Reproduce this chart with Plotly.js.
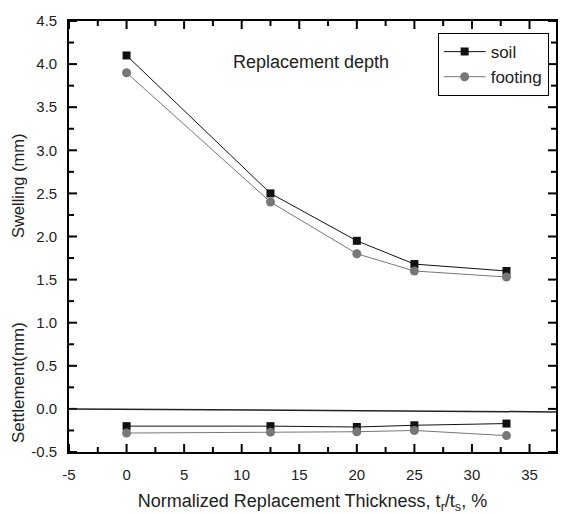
<!DOCTYPE html>
<html>
<head>
<meta charset="utf-8">
<script src="https://cdn.plot.ly/plotly-3.0.1.min.js"></script>
<style>html,body{margin:0;padding:0;background:#fff;}#chart{width:561px;height:514px;}</style>
</head>
<body>
<div id="chart"></div>
<script>
// Data
const thickness = [0, 12.5, 20, 25, 33];
const soilSwelling = [4.1, 2.5, 1.95, 1.68, 1.6];
const footingSwelling = [3.9, 2.4, 1.8, 1.6, 1.53];
const soilSettlement = [-0.2, -0.2, -0.21, -0.19, -0.17];
const footingSettlement = [-0.28, -0.27, -0.265, -0.25, -0.31];
const baselineX = [-5, 37.3];
const baselineY = [0, -0.035];

const xTickVals = [-5, 0, 5, 10, 15, 20, 25, 30, 35];
const xTickText = ['-5', '0', '5', '10', '15', '20', '25', '30', '35'];
const xMinorTicks = [-2.5, 2.5, 7.5, 12.5, 17.5, 22.5, 27.5, 32.5];
const yTickVals = [-0.5, 0, 0.5, 1, 1.5, 2, 2.5, 3, 3.5, 4, 4.5];
const yTickText = ['-0.5', '0.0', '0.5', '1.0', '1.5', '2.0', '2.5', '3.0', '3.5', '4.0', '4.5'];
const yMinorTicks = [-0.25, 0.25, 0.75, 1.25, 1.75, 2.25, 2.75, 3.25, 3.75, 4.25];

const xRange = [-5, 37.3];
const yRange = [-0.5, 4.5];

const W = 561, H = 514;
const margin = {l: 69, r: 5, t: 21, b: 62};

const soilColor = '#111111';
const footColor = '#777777';
const font = 'Arial, "Liberation Sans", sans-serif';

// Inside tick marks on all four sides, drawn as short line segments (lengths in pixels converted to axis units)
const xPerPx = (xRange[1] - xRange[0]) / (W - margin.l - margin.r);
const yPerPx = (yRange[1] - yRange[0]) / (H - margin.t - margin.b);
function tickTrace(vals, lens, side) {
  const xs = [], ys = [];
  vals.forEach((v, i) => {
    const L = lens[i];
    if (side === 'bottom') { xs.push(v, v, null); ys.push(yRange[0], yRange[0] + L * yPerPx, null); }
    if (side === 'top')    { xs.push(v, v, null); ys.push(yRange[1], yRange[1] - L * yPerPx, null); }
    if (side === 'left')   { ys.push(v, v, null); xs.push(xRange[0], xRange[0] + L * xPerPx, null); }
    if (side === 'right')  { ys.push(v, v, null); xs.push(xRange[1], xRange[1] - L * xPerPx, null); }
  });
  return {x: xs, y: ys, mode: 'lines', line: {color: '#000', width: 2}, showlegend: false,
          hoverinfo: 'skip', connectgaps: false};
}
const xAllTicks = xTickVals.concat(xMinorTicks);
const xAllLens = xTickVals.map(() => 8).concat(xMinorTicks.map(() => 5));
const yAllTicks = yTickVals.concat(yMinorTicks);
const yAllLens = yTickVals.map(() => 8).concat(yMinorTicks.map(() => 5));

const traces = [
  tickTrace(xAllTicks, xAllLens, 'bottom'),
  tickTrace(xAllTicks, xAllLens, 'top'),
  tickTrace(yAllTicks, yAllLens, 'left'),
  tickTrace(yAllTicks, yAllLens, 'right'),
  {x: baselineX, y: baselineY, mode: 'lines', line: {color: '#222', width: 1.5}, showlegend: false, hoverinfo: 'skip'},
  {x: thickness, y: soilSwelling, name: 'soil', mode: 'lines+markers',
   line: {color: soilColor, width: 1}, marker: {symbol: 'square', size: 8, color: soilColor}},
  {x: thickness, y: footingSwelling, name: 'footing', mode: 'lines+markers',
   line: {color: footColor, width: 1}, marker: {symbol: 'circle', size: 9, color: footColor}},
  {x: thickness, y: soilSettlement, name: 'soil', mode: 'lines+markers', showlegend: false,
   line: {color: soilColor, width: 1}, marker: {symbol: 'square', size: 8, color: soilColor}},
  {x: thickness, y: footingSettlement, name: 'footing', mode: 'lines+markers', showlegend: false,
   line: {color: footColor, width: 1}, marker: {symbol: 'circle', size: 9, color: footColor}}
];

const layout = {
  width: W, height: H,
  margin: margin,
  paper_bgcolor: '#fff', plot_bgcolor: '#fff',
  font: {family: font, color: '#222'},
  xaxis: {
    range: xRange, tickmode: 'array', tickvals: xTickVals, ticktext: xTickText,
    showgrid: false, zeroline: false, showline: true, linecolor: '#000', linewidth: 1.8,
    mirror: true, ticks: '', ticklabelstandoff: 8,
    tickfont: {family: font, size: 15, color: '#222'},
    title: {text: 'Normalized Replacement Thickness, t<sub>r</sub>/t<sub>s</sub>, %', font: {family: font, size: 18, color: '#222'}, standoff: 15}
  },
  yaxis: {
    range: yRange, tickmode: 'array', tickvals: yTickVals, ticktext: yTickText,
    showgrid: false, zeroline: false, showline: true, linecolor: '#000', linewidth: 1.8,
    mirror: true, ticks: '', ticklabelstandoff: 7,
    tickfont: {family: font, size: 15, color: '#222'}
  },
  showlegend: true,
  legend: {
    x: 0.757, y: 0.972, xanchor: 'left', yanchor: 'top',
    bgcolor: '#fff', bordercolor: '#000', borderwidth: 1,
    font: {family: font, size: 17, color: '#222'},
    tracegroupgap: 0, itemwidth: 42
  },
  annotations: [
    {text: 'Replacement depth', xref: 'paper', yref: 'paper', x: 0.497, y: 0.904, xanchor: 'center', yanchor: 'middle',
     showarrow: false, font: {family: font, size: 18, color: '#222'}},
    {text: 'Swelling (mm)', xref: 'paper', yref: 'paper', x: -0.105, xanchor: 'center', y: 0.619, yanchor: 'middle',
     textangle: -90, showarrow: false, font: {family: font, size: 16.5, color: '#222'}},
    {text: 'Settlement(mm)', xref: 'paper', yref: 'paper', x: -0.105, xanchor: 'center', y: 0.162, yanchor: 'middle',
     textangle: -90, showarrow: false, font: {family: font, size: 17, color: '#222'}}
  ]
};

Plotly.newPlot('chart', traces, layout, {displayModeBar: false, staticPlot: true});
</script>
</body>
</html>
